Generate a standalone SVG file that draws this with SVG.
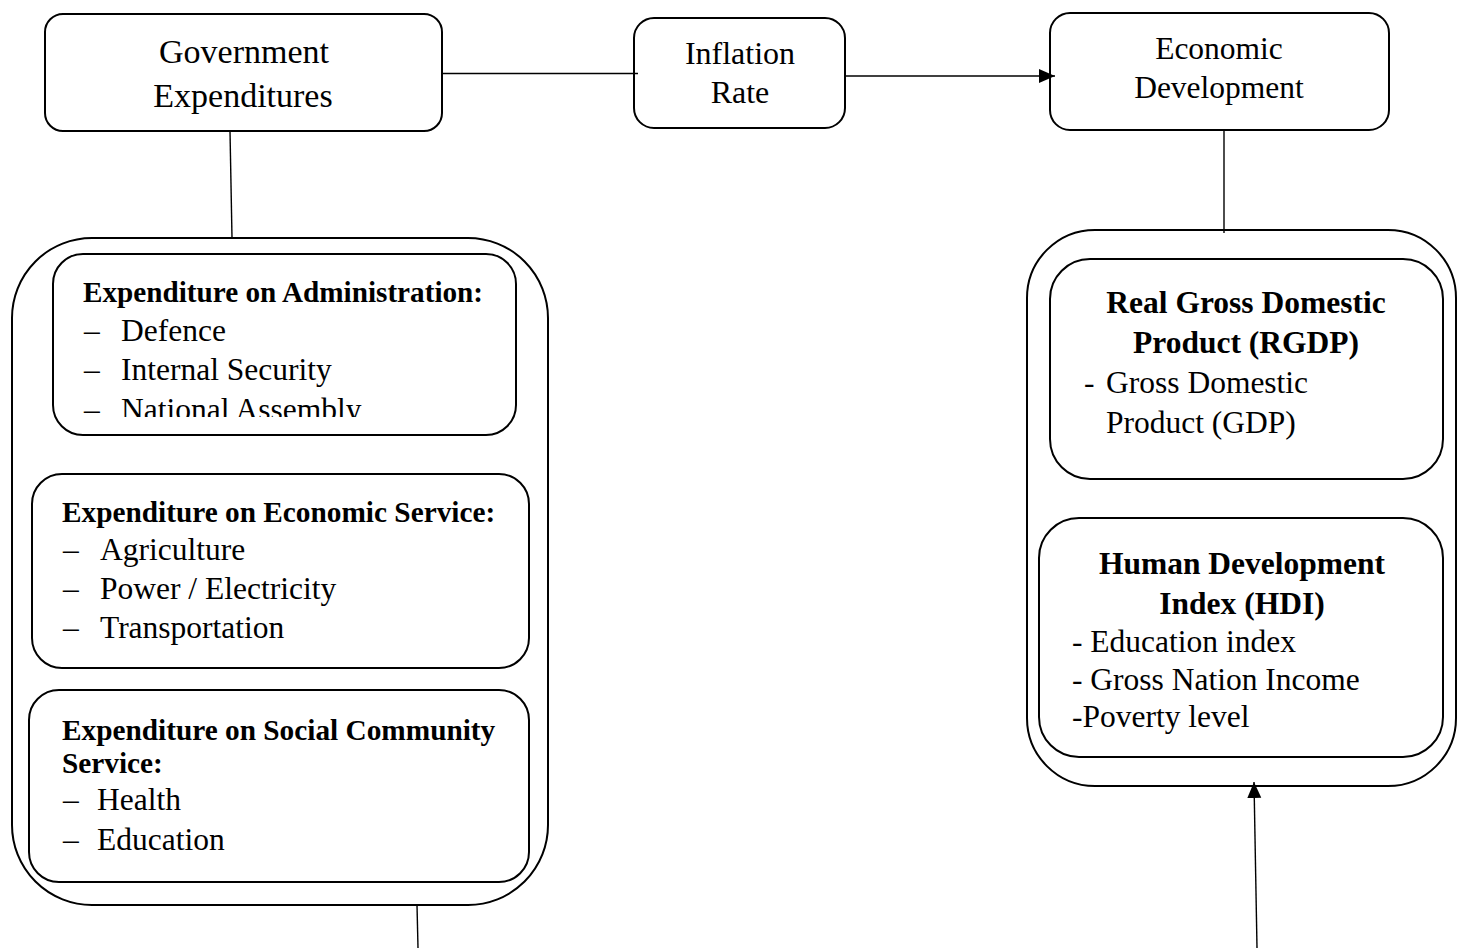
<svg xmlns="http://www.w3.org/2000/svg" width="1461" height="948" viewBox="0 0 1461 948">
  <style>
    .box { fill: #ffffff; stroke: #000000; stroke-width: 2; }
    .outer { fill: none; stroke: #000000; stroke-width: 2; }
    .link { fill: none; stroke: #000000; stroke-width: 1.4; }
    text { font-family: "Liberation Serif", "Times New Roman", serif; fill: #000000; }
    .head { font-size: 32px; text-anchor: middle; }
    .b { font-weight: bold; }
    .item { font-size: 31.5px; }
  </style>
  <defs>
    <marker id="arrow" markerUnits="userSpaceOnUse" markerWidth="18" markerHeight="16" refX="16" refY="7" orient="auto">
      <path d="M0,0 L16,7 L0,14 z" fill="#000000"/>
    </marker>
    <clipPath id="adminClip">
      <rect x="53" y="254" width="463" height="163"/>
    </clipPath>
  </defs>

  <!-- top row -->
  <g id="gov-exp">
    <rect class="box" x="45" y="14" width="397" height="117" rx="18"/>
    <text class="head" x="244" y="63" style="font-size:34px">Government</text>
    <text class="head" x="243" y="107" style="font-size:34px">Expenditures</text>
  </g>

  <g id="inflation">
    <rect class="box" x="634" y="18" width="211" height="110" rx="20"/>
    <text class="head" x="740" y="64">Inflation</text>
    <text class="head" x="740" y="103">Rate</text>
  </g>

  <g id="econ-dev">
    <rect class="box" x="1050" y="13" width="339" height="117" rx="20"/>
    <text class="head" x="1219" y="59" style="font-size:31.5px">Economic</text>
    <text class="head" x="1219" y="98" style="font-size:31.5px">Development</text>
  </g>

  <!-- government expenditure components -->
  <g id="gov-components">
    <rect class="outer" x="12" y="238" width="536" height="667" rx="80"/>

    <g id="admin">
      <rect class="box" x="53" y="254" width="463" height="181" rx="30"/>
      <text class="b" x="83" y="302" style="font-size:29.2px">Expenditure on Administration:</text>
      <g clip-path="url(#adminClip)" class="item">
        <text x="84" y="341">–</text><text x="121" y="341">Defence</text>
        <text x="84" y="380">–</text><text x="121" y="380">Internal Security</text>
        <text x="84" y="420">–</text><text x="121" y="420">National Assembly</text>
      </g>
    </g>

    <g id="econ-service">
      <rect class="box" x="32" y="474" width="497" height="194" rx="30"/>
      <text class="b" x="62" y="522" style="font-size:29.3px">Expenditure on Economic Service:</text>
      <g class="item">
        <text x="63" y="560">–</text><text x="100" y="560">Agriculture</text>
        <text x="63" y="599">–</text><text x="100" y="599">Power / Electricity</text>
        <text x="63" y="638">–</text><text x="100" y="638">Transportation</text>
      </g>
    </g>

    <g id="social-service">
      <rect class="box" x="29" y="690" width="500" height="192" rx="30"/>
      <text class="b" x="62" y="740" style="font-size:29.3px">Expenditure on Social Community</text>
      <text class="b" x="62" y="773" style="font-size:29.3px">Service:</text>
      <g class="item">
        <text x="63" y="810">–</text><text x="97" y="810">Health</text>
        <text x="63" y="850">–</text><text x="97" y="850">Education</text>
      </g>
    </g>
  </g>

  <!-- development indicators -->
  <g id="dev-indicators">
    <rect class="outer" x="1027" y="230" width="429" height="556" rx="68"/>

    <g id="rgdp">
      <rect class="box" x="1050" y="259" width="393" height="220" rx="40"/>
      <text class="head b" x="1246" y="313" style="font-size:31.5px">Real Gross Domestic</text>
      <text class="head b" x="1246" y="353" style="font-size:31.5px">Product (RGDP)</text>
      <g class="item">
        <text x="1084" y="393">-</text><text x="1106" y="393">Gross Domestic</text>
        <text x="1106" y="433">Product (GDP)</text>
      </g>
    </g>

    <g id="hdi">
      <rect class="box" x="1039" y="518" width="404" height="239" rx="40"/>
      <text class="head b" x="1242" y="574" style="font-size:31.5px">Human Development</text>
      <text class="head b" x="1242" y="614" style="font-size:31.5px">Index (HDI)</text>
      <g class="item">
        <text x="1072" y="652">- Education index</text>
        <text x="1072" y="690">- Gross Nation Income</text>
        <text x="1072" y="727">-Poverty level</text>
      </g>
    </g>
  </g>

  <!-- connectors, drawn over the node outlines -->
  <g id="connectors">
    <line class="link" x1="442" y1="73.5" x2="638" y2="73.5"/>
    <line class="link" x1="845" y1="76" x2="1055" y2="76" marker-end="url(#arrow)"/>
    <line class="link" x1="230" y1="131" x2="232" y2="238"/>
    <line class="link" x1="1224" y1="130" x2="1224" y2="233"/>
    <line class="link" x1="417" y1="905" x2="418" y2="948"/>
    <line class="link" x1="1257" y1="948" x2="1254" y2="782" marker-end="url(#arrow)"/>
  </g>
</svg>
